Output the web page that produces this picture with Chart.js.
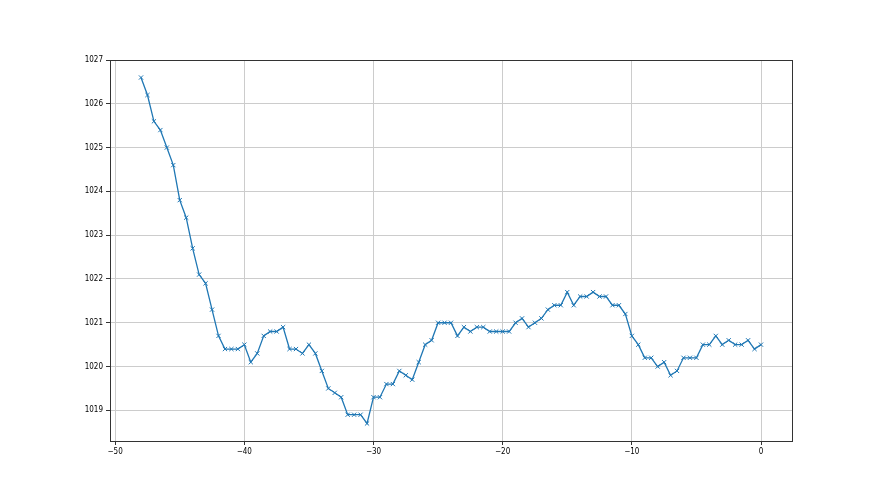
<!DOCTYPE html>
<html>
<head>
<meta charset="utf-8">
<script src="https://cdn.jsdelivr.net/npm/chart.js@4"></script>
<style>
  html, body { margin: 0; padding: 0; background: #fff; }
  #wrap { width: 880px; height: 495px; }
</style>
</head>
<body>
<div id="wrap"><canvas id="grafica" width="880" height="495"></canvas></div>
<script>
// datos (hora relativa vs presión)
const horas = [
  -48, -47.5, -47, -46.5, -46, -45.5, -45, -44.5, -44, -43.5,
  -43, -42.5, -42, -41.5, -41, -40.5, -40, -39.5, -39, -38.5,
  -38, -37.5, -37, -36.5, -36, -35.5, -35, -34.5, -34, -33.5,
  -33, -32.5, -32, -31.5, -31, -30.5, -30, -29.5, -29, -28.5,
  -28, -27.5, -27, -26.5, -26, -25.5, -25, -24.5, -24, -23.5,
  -23, -22.5, -22, -21.5, -21, -20.5, -20, -19.5, -19, -18.5,
  -18, -17.5, -17, -16.5, -16, -15.5, -15, -14.5, -14, -13.5,
  -13, -12.5, -12, -11.5, -11, -10.5, -10, -9.5, -9, -8.5,
  -8, -7.5, -7, -6.5, -6, -5.5, -5, -4.5, -4, -3.5,
  -3, -2.5, -2, -1.5, -1, -0.5, 0
];
const presion = [
  1026.6, 1026.2, 1025.6, 1025.4, 1025.0, 1024.6, 1023.8, 1023.4, 1022.7, 1022.1,
  1021.9, 1021.3, 1020.7, 1020.4, 1020.4, 1020.4, 1020.5, 1020.1, 1020.3, 1020.7,
  1020.8, 1020.8, 1020.9, 1020.4, 1020.4, 1020.3, 1020.5, 1020.3, 1019.9, 1019.5,
  1019.4, 1019.3, 1018.9, 1018.9, 1018.9, 1018.7, 1019.3, 1019.3, 1019.6, 1019.6,
  1019.9, 1019.8, 1019.7, 1020.1, 1020.5, 1020.6, 1021.0, 1021.0, 1021.0, 1020.7,
  1020.9, 1020.8, 1020.9, 1020.9, 1020.8, 1020.8, 1020.8, 1020.8, 1021.0, 1021.1,
  1020.9, 1021.0, 1021.1, 1021.3, 1021.4, 1021.4, 1021.7, 1021.4, 1021.6, 1021.6,
  1021.7, 1021.6, 1021.6, 1021.4, 1021.4, 1021.2, 1020.7, 1020.5, 1020.2, 1020.2,
  1020.0, 1020.1, 1019.8, 1019.9, 1020.2, 1020.2, 1020.2, 1020.5, 1020.5, 1020.7,
  1020.5, 1020.6, 1020.5, 1020.5, 1020.6, 1020.4, 1020.5
];
const ticksX = [-50, -40, -30, -20, -10, 0];
const ticksY = [1019, 1020, 1021, 1022, 1023, 1024, 1025, 1026, 1027];

const puntos = horas.map((h, i) => ({ x: h, y: presion[i] }));

// marco completo alrededor del área (como matplotlib)
const marco = {
  id: "marco",
  afterDraw(chart) {
    const { ctx, chartArea: a } = chart;
    ctx.save();
    ctx.strokeStyle = "#333";
    ctx.lineWidth = 1;
    ctx.strokeRect(a.left + 0.5, a.top + 0.5, a.right - a.left, a.bottom - a.top);
    ctx.restore();
  }
};

const fuente = { family: "'DejaVu Sans Condensed', 'DejaVu Sans', sans-serif", size: 8 };

new Chart(document.getElementById("grafica"), {
  type: "line",
  data: {
    datasets: [{
      data: puntos,
      borderColor: "#1f77b4",
      backgroundColor: "#1f77b4",
      borderWidth: 1.3,
      pointStyle: "crossRot",
      pointRadius: 3,
      pointBorderWidth: 1,
      pointBorderColor: "#1f77b4",
      tension: 0,
      fill: false
    }]
  },
  options: {
    responsive: false,
    animation: false,
    layout: { padding: { top: 60, right: 88, left: 0, bottom: 0 } },
    plugins: { legend: { display: false }, tooltip: { enabled: false } },
    scales: {
      x: {
        type: "linear",
        min: -50.4,
        max: 2.4,
        afterBuildTicks: s => { s.ticks = ticksX.map(v => ({ value: v })); },
        afterFit: s => { s.height = 54; },
        grid: { color: "#cccccc", lineWidth: 1, tickColor: "#333", tickLength: 4 },
        border: { display: false },
        ticks: { color: "#000", font: fuente, padding: 2, maxRotation: 0, callback: v => String(v).replace("-", "\u2212") }
      },
      y: {
        min: 1018.3,
        max: 1027,
        afterBuildTicks: s => { s.ticks = ticksY.map(v => ({ value: v })); },
        afterFit: s => { s.width = 110; },
        grid: { color: "#cccccc", lineWidth: 1, tickColor: "#333", tickLength: 4 },
        border: { display: false },
        ticks: { color: "#000", font: fuente, padding: 3, callback: v => String(v) }
      }
    }
  },
  plugins: [marco]
});
</script>
</body>
</html>
